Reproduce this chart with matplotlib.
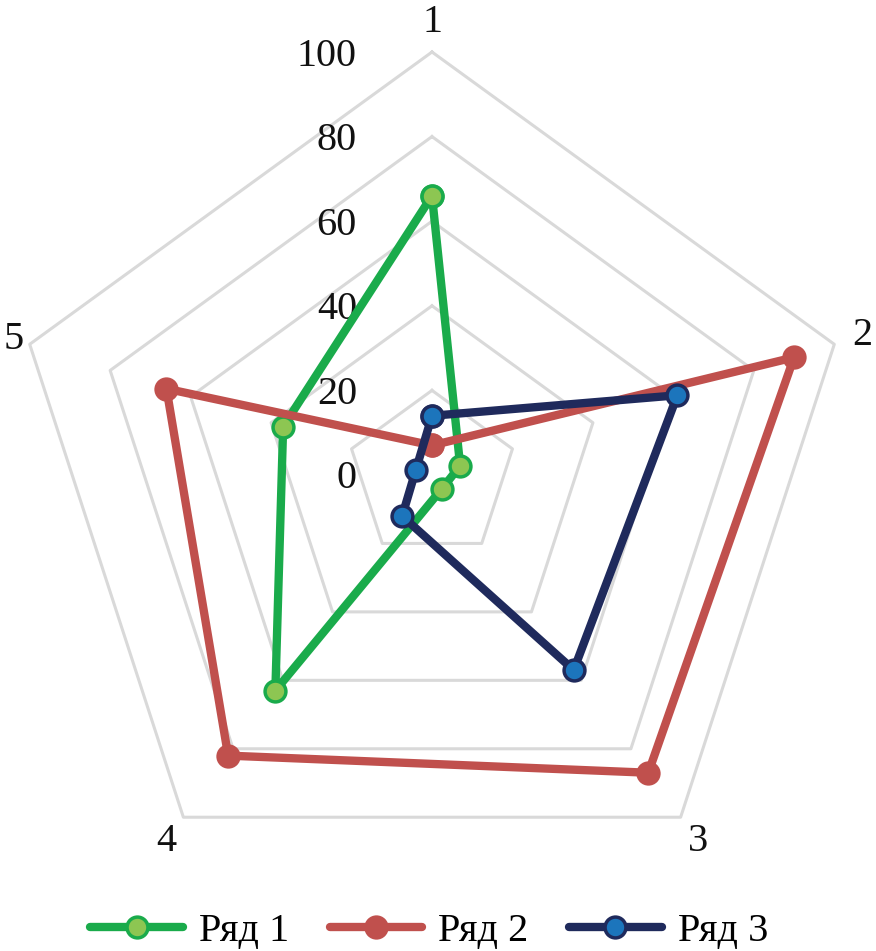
import numpy as np
from matplotlib import pyplot as plt

plt.rcParams['font.family'] = ['Liberation Serif', 'DejaVu Serif']

categories = ['1', '2', '3', '4', '5']
series_names = ['Ряд 1', 'Ряд 2', 'Ряд 3']
row1 = [66, 7, 4, 63, 37]
row2 = [7, 90, 87, 82, 66]
row3 = [14, 61, 57, 12, 4]
rings = [0, 20, 40, 60, 80, 100]

line_colors = ['#1aab4b', '#c0504d', '#1f2a5c']
face_colors = ['#8dc652', '#c0504d', '#1c75bc']

fig = plt.figure(figsize=(8.76, 9.51), dpi=100)
ax = fig.add_axes([9/876, 53/951, 846/876, 846/951], projection='polar')
ax.set_theta_offset(np.pi / 2)
ax.set_theta_direction(-1)
ax.set_ylim(0, 100)
ax.grid(False)
ax.spines['polar'].set_visible(False)
ax.set_xticks([])
ax.set_yticks([])
ax.patch.set_alpha(0)

angles = np.linspace(0, 2 * np.pi, len(categories), endpoint=False)
closed = np.append(angles, angles[0])

# pentagon grid
for r in rings[1:]:
    ax.plot(closed, [r] * len(closed), color='#d9d9d9', lw=2.2, zorder=1, clip_on=False)

# radial labels
for r in rings:
    ax.annotate(str(r), xy=(0, r), xytext=(-75, -4), textcoords='offset pixels',
                ha='right', va='center', fontsize=29, color='#111111')

# category labels (the left one sits a bit closer, like the original)
label_r = [107, 107, 107, 107, 104]
for a, c, lr in zip(angles, categories, label_r):
    ax.text(a, lr, c, ha='center', va='center', fontsize=29, color='#111111')

for i, vals in enumerate([row1, row2, row3]):
    v = np.append(vals, vals[0])
    ax.plot(closed, v, color=line_colors[i], lw=6, marker='o', ms=15,
            mfc=face_colors[i], mec=line_colors[i], mew=2.5,
            solid_capstyle='round', solid_joinstyle='round',
            label=series_names[i], zorder=3 + i, clip_on=False)

fig.legend(loc='lower center', bbox_to_anchor=(0.49, -0.037), ncol=3, frameon=False,
           fontsize=29, handlelength=2.3, columnspacing=1.0, handletextpad=0.4)

fig.savefig('out.png', dpi=100)
